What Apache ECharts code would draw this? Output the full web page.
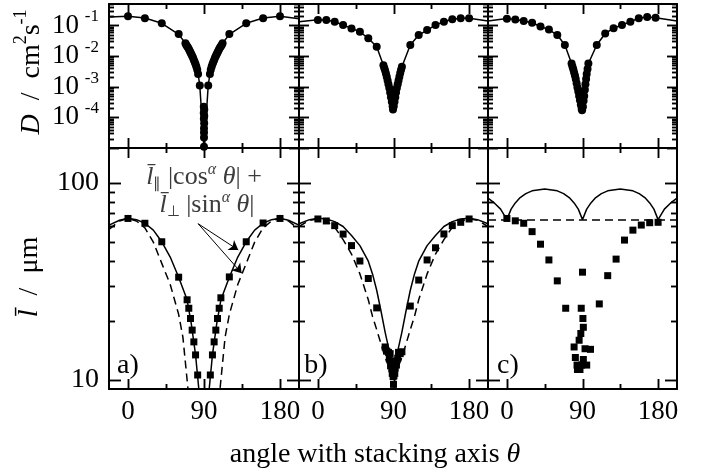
<!DOCTYPE html>
<html>
<head>
<meta charset="utf-8">
<script src="https://cdn.jsdelivr.net/npm/echarts@6/dist/echarts.min.js"></script>
<style>
html, body { margin: 0; padding: 0; background: #fff; }
#main { width: 707px; height: 473px; }
</style>
</head>
<body>
<div id="main"></div>
<script>
// --- angle axis ---
var xTicks = [0, 90, 180];
var xMinorTicks = [45, 135];
// --- D axis (top row), log ---
var dTicks = [1e-5, 1e-4, 1e-3, 1e-2, 1e-1];
var dLabels = [1e-1, 1e-2, 1e-3, 1e-4];
// --- l axis (bottom row), log ---
var lTicks = [10, 100];
var lMinorTicks = [20, 30, 40, 50, 60, 70, 80, 90];

// D data, panel a/b/c  [angle, D]
var dA = [[0,0.20],[20,0.17],[40,0.117],[60,0.052],
  [68,0.026],[69,0.023],[70,0.021],[71,0.019],[72,0.017],[73,0.015],[74,0.013],[75,0.0115],
  [76,0.010],[77,0.0088],[78,0.0075],[79,0.0064],[80,0.0054],[81,0.0045],[82,0.0036],[83,0.0026],
  [85,0.0011],
  [89.7,2.2e-4],[90.3,1.8e-4],[89.7,1.4e-4],[90.3,1.1e-4],[89.8,9e-5],[90.2,6.4e-5],[90,4.4e-5],[90,3.2e-5],[90,2.2e-5],[90,1.1e-5],
  [95,0.0011],
  [97,0.0026],[98,0.0036],[99,0.0045],[100,0.0054],[101,0.0064],[102,0.0075],[103,0.0088],[104,0.010],
  [105,0.0115],[106,0.013],[107,0.015],[108,0.017],[109,0.019],[110,0.021],[111,0.023],[112,0.026],
  [120,0.052],[140,0.117],[160,0.17],[180,0.20]];
var dB = [[0,0.15],[10,0.15],[20,0.132],[30,0.103],[40,0.080],[50,0.062],[60,0.038],[70,0.020],
  [78,0.0050],[79,0.0041],[80,0.0034],[81,0.0027],[82,0.0021],[83,0.0016],[84,0.0012],[85,0.0009],
  [86,0.00065],[87,0.00045],[88,0.00032],[89,0.00023],[89.4,0.00018],
  [90.3,0.00023],[91.2,0.00032],[92.1,0.00045],[93,0.00065],[94,0.0009],[95,0.0012],[96,0.0016],
  [97,0.0021],[98,0.0028],[99,0.0036],[100,0.0045],
  [110,0.0229],[120,0.0485],[130,0.0707],[140,0.103],[150,0.132],[160,0.158],[170,0.171],[180,0.171]];
var dC = [[0,0.165],[10,0.155],[20,0.14],[30,0.122],[40,0.092],[50,0.073],[60,0.0485],[69,0.023],
  [77,0.0057],[78,0.0046],[79,0.0037],[80,0.0029],[81,0.0023],[82,0.0018],[83,0.0013],[84,0.00095],
  [85,0.0007],[86,0.0005],[87,0.00036],[88,0.00026],[89,0.00019],[89.5,0.00017],
  [90.5,0.00022],[91.3,0.00035],[92,0.0005],[92.8,0.0008],[93.5,0.0012],[94.3,0.0018],[95,0.0026],
  [96,0.0038],[97,0.0057],
  [107,0.023],[117,0.0545],[127,0.081],[137,0.103],[147,0.132],[157,0.171],[167,0.19],[177,0.178]];
// fitted D curves
var dFitA = [[-22.5,0.19],[0,0.2],[20,0.175],[40,0.117],[60,0.051],[70,0.022],[75,0.0125],[80,0.0055],
  [83,0.0026],[85,0.0011],[90,0.000009],[95,0.0011],[97,0.0026],[100,0.0055],[105,0.0125],[110,0.022],
  [120,0.051],[140,0.117],[160,0.175],[180,0.2],[202.5,0.165]];
var dFitB = [[-22.5,0.132],[0,0.152],[10,0.15],[20,0.132],[30,0.103],[40,0.08],[50,0.062],[60,0.038],
  [70,0.02],[78,0.005],[84,0.0012],[89.4,0.00018],[95,0.0012],[100,0.0045],[110,0.0229],[120,0.0485],
  [130,0.0707],[140,0.103],[150,0.132],[160,0.158],[170,0.171],[180,0.171],[202.5,0.14]];
var dFitC = [[-22.5,0.14],[0,0.168],[10,0.155],[20,0.14],[30,0.122],[40,0.092],[50,0.073],[60,0.0485],
  [69,0.023],[77,0.0057],[83,0.0013],[89.5,0.00017],[93.5,0.0012],[97,0.0057],[107,0.023],[117,0.0545],
  [127,0.081],[137,0.103],[147,0.132],[157,0.171],[167,0.19],[177,0.178],[202.5,0.14]];

// l data, panel a/b/c  [angle, l]
var lA = [[0,65.9],[20,62.3],[40,50.2],[60,33.2],[70,25.5],[72,23.1],[74,20.5],[76,17.9],[78,15.6],
  [80,13.4],[82.5,10.6],[97.5,10.6],[100,13.4],[102,15.6],[104,17.9],[106,20.5],[108,23.1],[110,26.1],
  [120,33.3],[140,50.2],[160,62.5],[180,65.9]];
var lB = [[0,65.5],[10,64],[20,60.6],[30,54.9],[40,48],[50,40.1],[60,32.7],[70,23.2],[80,14.7],
  [82,14.0],[84,13.8],[86,13.6],[96,13.8],[98,13.6],[100,13.9],[85,12.8],[87,12.4],[93,12.5],[95,12.9],
  [86.5,11.8],[88,11.4],[92,11.5],[93.5,11.9],[88.5,10.8],[90,11.0],[91.5,10.8],[89.5,10.4],[90.5,10.5],[90,9.5],
  [110,23.7],[120,32.1],[130,40.6],[140,46.8],[150,55],[160,60.6],[170,63],[180,65.5]];
var lC = [[0,65.9],[10,64.1],[20,62.3],[30,56.5],[40,48.8],[50,40.6],[60,31.8],[70,23.1],
  [88.5,23.1],[90,35.2],[90.5,20.5],[91,18.5],[88,17.2],[86,15.9],[80,14.7],[81.5,13.0],[93,14.4],
  [99.5,14.3],[91,12.7],[83.5,11.9],[89,11.9],[95,11.9],[84,11.3],[87,11.3],
  [110,24.3],[120,33.8],[130,41],[140,51.2],[150,57.5],[160,61],[170,62.7],[180,63]];
// model curves (solid and dashed)
var lSolidA = [[-22.5,61],[-10,64.5],[0,66],[10,65],[20,62.3],[30,57.5],[40,50.2],[50,42],[60,33.2],
  [70,25.5],[75,19.2],[80,13.4],[85,8],[90,5],[95,8],[100,13.4],[105,19.2],[110,25.5],[120,33.2],
  [130,42],[140,50.2],[150,57.5],[160,62.3],[170,65],[180,66],[190,64.5],[202.5,61]];
var lDashA = [[-22.5,58],[-10,64],[0,66],[10,64],[20,59],[30,50],[40,39],[50,30.5],[60,21.5],[65,16.5],
  [70,10],[75,6],[90,3],[105,6],[110,10],[115,16.5],[120,21.5],[130,30.5],[140,39],[150,50],[160,59],
  [170,64],[180,66],[190,64],[202.5,58]];
var lSolidB = [[-22.5,62],[-10,65],[0,66],[10,65.5],[20,63.5],[30,60],[40,54],[50,48],[60,40],[65,34.5],
  [70,28.5],[75,22.5],[80,17.5],[85,14],[88,12],[90,11],[92,12],[95,14],[100,17.5],[105,22.5],[110,28.5],
  [115,34.5],[120,40],[130,48],[140,54],[150,60],[160,63.5],[170,65.5],[180,66],[190,65],[202.5,62]];
var lDashB = [[-22.5,60],[-10,64.5],[0,65.5],[10,64],[20,59.5],[30,51.5],[40,43.5],[50,34.5],[60,25.5],
  [65,21],[70,18],[75,15.3],[80,13],[85,11.5],[90,10.8],[95,11.5],[100,13],[105,15.3],[110,18],[115,21],
  [120,25.5],[130,34.5],[140,43.5],[150,51.5],[160,59.5],[170,64],[180,65.5],[190,64.5],[202.5,60]];
var lSolidC = [[-22.5,83.5],[-15,79],[-7.5,73.5],[0,65],[5,73.5],[10,79],[15,83.5],[22.5,88],[30,91],
  [45,93],[60,91],[67.5,88],[75,83.5],[80,79],[85,73.5],[90,65],[95,73.5],[100,79],[105,83.5],
  [112.5,88],[120,91],[135,93],[150,91],[157.5,88],[165,83.5],[170,79],[175,73.5],[180,65],
  [187.5,73.5],[195,79],[202.5,83.5]];
var lDashC = [[-22.5,64.7],[202.5,64.7]];

var FONT = 'Liberation Serif';
var X_MIN = -22.5, X_MAX = 202.5;
var cols = [{left: 109, width: 190}, {left: 299, width: 189}, {left: 488, width: 189}];
var rows = [
  {top: 4, height: 144, min: 1e-5, max: 0.5},
  {top: 148, height: 241, min: 9, max: 150}
];

var dMinor = [];
for (var ex = -5; ex < 0; ex++) {
  for (var mm = 2; mm <= 9; mm++) {
    var mv = mm * Math.pow(10, ex);
    if (mv <= 0.5) dMinor.push(mv);
  }
}

var grids = [], xAxes = [], yAxes = [], mainX = [], mainY = [];
var AXLINE = {onZero: false, lineStyle: {color: '#000', width: 2}};

function yAxis(g, r, pos, line, label) {
  return {
    gridIndex: g, type: 'log', logBase: 10, position: pos, min: rows[r].min, max: rows[r].max,
    axisLine: line ? AXLINE : {show: false, onZero: false}, axisTick: {show: false},
    splitLine: {show: false}, axisLabel: label || {show: false}
  };
}

for (var r = 0; r < 2; r++) {
  for (var c = 0; c < 3; c++) {
    var g = grids.length;
    grids.push({left: cols[c].left, width: cols[c].width, top: rows[r].top, height: rows[r].height});
    mainX.push(xAxes.length);
    xAxes.push({
      gridIndex: g, type: 'value', position: 'bottom', min: X_MIN, max: X_MAX,
      axisLine: AXLINE, axisTick: {show: false}, splitLine: {show: false},
      axisLabel: r === 1 ? {show: true, customValues: xTicks, margin: 9, fontFamily: FONT, fontSize: 27,
        color: '#000', showMinLabel: true, showMaxLabel: true} : {show: false}
    });
    xAxes.push({
      gridIndex: g, type: 'value', position: 'top', min: X_MIN, max: X_MAX,
      axisLine: AXLINE, axisTick: {show: false}, splitLine: {show: false}, axisLabel: {show: false}
    });
    mainY.push(yAxes.length);
    if (c === 0 && r === 0) {
      // mantissa "10" and the exponent as two label rows
      yAxes.push(yAxis(g, r, 'left', true, {show: true, customValues: dLabels, margin: 30,
        fontFamily: FONT, fontSize: 27, color: '#000', showMinLabel: true, showMaxLabel: true,
        formatter: function () { return '10'; }}));
      yAxes.push(yAxis(g, r, 'left', false, {show: true, customValues: dLabels, margin: 10,
        fontFamily: FONT, fontSize: 17, color: '#000', verticalAlign: 'bottom', showMinLabel: true, showMaxLabel: true,
        formatter: function (val) { return String(Math.round(Math.log10(val))); }}));
    } else if (c === 0) {
      yAxes.push(yAxis(g, r, 'left', true, {show: true, customValues: lTicks, margin: 10,
        fontFamily: FONT, fontSize: 28, color: '#000', showMinLabel: true, showMaxLabel: true}));
    } else {
      yAxes.push(yAxis(g, r, 'left', true));
    }
    yAxes.push(yAxis(g, r, 'right', true));
  }
}

// inward ticks on all four sides, as a custom series on each panel's axes
function tickSeries(g, r) {
  var data = [];
  xTicks.forEach(function (val) { data.push([val, 10, 0]); });
  xMinorTicks.forEach(function (val) { data.push([val, 5, 0]); });
  (r === 0 ? dTicks : lTicks).forEach(function (val) { data.push([val, r === 0 ? 10 : 12, 1]); });
  (r === 0 ? dMinor : lMinorTicks).forEach(function (val) { data.push([val, r === 0 ? 5 : 6, 1]); });
  var yRef = rows[r].min;
  return {
    type: 'custom', xAxisIndex: mainX[g], yAxisIndex: mainY[g], data: data, z: 5,
    renderItem: function (params, api) {
      var tv = api.value(0), len = api.value(1), dir = api.value(2);
      var cs = params.coordSys;
      var segs;
      if (dir === 0) {
        var px = Math.round(api.coord([tv, yRef])[0]) + 0.5;
        segs = [[px, cs.y + cs.height, px, cs.y + cs.height - len], [px, cs.y, px, cs.y + len]];
      } else {
        var py = Math.round(api.coord([0, tv])[1]) + 0.5;
        segs = [[cs.x, py, cs.x + len, py], [cs.x + cs.width, py, cs.x + cs.width - len, py]];
      }
      return {
        type: 'group',
        children: segs.map(function (s) {
          return {type: 'line', shape: {x1: s[0], y1: s[1], x2: s[2], y2: s[3]},
            style: {stroke: '#000', lineWidth: 1.5}};
        })
      };
    }
  };
}

var dSets = [dA, dB, dC], dFits = [dFitA, dFitB, dFitC];
var lSets = [lA, lB, lC], lSolids = [lSolidA, lSolidB, lSolidC], lDashes = [lDashA, lDashB, lDashC];
var series = [];
for (var k = 0; k < 3; k++) {
  series.push({
    type: 'line', xAxisIndex: mainX[k], yAxisIndex: mainY[k], data: dFits[k],
    showSymbol: false, lineStyle: {color: '#000', width: 1.5}, z: 3
  });
  series.push({
    type: 'scatter', xAxisIndex: mainX[k], yAxisIndex: mainY[k], data: dSets[k],
    symbol: 'circle', symbolSize: 8, itemStyle: {color: '#000', opacity: 1}, z: 4
  });
  series.push({
    type: 'line', xAxisIndex: mainX[k + 3], yAxisIndex: mainY[k + 3], data: lSolids[k],
    showSymbol: false, lineStyle: {color: '#000', width: 1.5}, z: 3
  });
  series.push({
    type: 'line', xAxisIndex: mainX[k + 3], yAxisIndex: mainY[k + 3], data: lDashes[k],
    showSymbol: false, lineStyle: {color: '#000', width: 1.5, type: [8, 5]}, z: 3
  });
  var sq = {
    type: 'scatter', xAxisIndex: mainX[k + 3], yAxisIndex: mainY[k + 3], data: lSets[k],
    symbol: 'rect', symbolSize: 7, itemStyle: {color: '#000', opacity: 1}, z: 4
  };
  if (k === 0) {
    // arrows from the formula to the two model curves
    sq.markLine = {
      silent: true, symbol: ['none', 'arrow'], symbolSize: 9, animation: false,
      label: {show: false},
      lineStyle: {color: '#000', width: 1, type: 'solid', opacity: 1},
      data: [
        [{coord: [83, 62]}, {coord: [130.6, 45.6]}],
        [{coord: [83, 62]}, {coord: [134.6, 34.8]}]
      ]
    };
  }
  series.push(sq);
}
for (var t = 0; t < 6; t++) series.push(tickSeries(t, t < 3 ? 0 : 1));

var rich = {
  n: {fontFamily: FONT, fontSize: 28, fill: '#000', lineHeight: 40},
  i: {fontFamily: FONT, fontSize: 28, fontStyle: 'italic', fill: '#000', lineHeight: 40},
  p: {fontFamily: FONT, fontSize: 18, fill: '#000', lineHeight: 14, verticalAlign: 'top'}
};
var arich = {
  n: {fontFamily: FONT, fontSize: 26, fill: '#3c3c3c', lineHeight: 30},
  i: {fontFamily: FONT, fontSize: 26, fontStyle: 'italic', fill: '#3c3c3c', lineHeight: 30},
  p: {fontFamily: FONT, fontSize: 16, fontStyle: 'italic', fill: '#3c3c3c', lineHeight: 12, verticalAlign: 'top'},
  d: {fontFamily: FONT, fontSize: 15, fill: '#3c3c3c', lineHeight: 12, verticalAlign: 'bottom'}
};

function txt(x, y, s, rot, rc) {
  return {
    type: 'text', x: x, y: y, rotation: rot || 0, z: 10,
    style: {text: s, rich: rc || rich, align: 'center', verticalAlign: 'middle', fill: '#000',
      fontFamily: FONT, fontSize: 27}
  };
}

var texts = [
  txt(32, 72, '{i|D}{n|  /  cm}{p|2}{n|s}{p|-1}', Math.PI / 2),
  txt(30, 277, '{i|l\u0304}{n|  /  \u03bcm}', Math.PI / 2),
  txt(375, 455, '{n|angle with stacking axis }{i|\u03b8}'),
  txt(128, 366, '{n|a)}'),
  txt(316, 366, '{n|b)}'),
  txt(508, 366, '{n|c)}'),
  txt(204, 177, '{i|l\u0304}{d|\u2225}{n| |cos}{p|\u03b1}{n| }{i|\u03b8}{n|| +}', 0, arich),
  txt(207, 205, '{i|l\u0304}{d|\u22a5}{n| |sin}{p|\u03b1}{n| }{i|\u03b8}{n||}', 0, arich)
];

var chart = echarts.init(document.getElementById('main'));
chart.setOption({
  animation: false,
  backgroundColor: '#fff',
  grid: grids,
  xAxis: xAxes,
  yAxis: yAxes,
  series: series
});

// same ticks again as plain graphic lines, mapped with each panel's axis ranges
var tickEls = [];
function seg(x1, y1, x2, y2) {
  tickEls.push({type: 'line', z: 6, shape: {x1: x1, y1: y1, x2: x2, y2: y2},
    style: {stroke: '#000', lineWidth: 1.5}});
}
function panelTicks(gi) {
  var ri = gi < 3 ? 0 : 1, gr = grids[gi];
  var x0 = gr.left, x1 = gr.left + gr.width, y0 = gr.top, y1 = gr.top + gr.height;
  var lmax = Math.log10(rows[ri].max), lmin = Math.log10(rows[ri].min);
  function xt(vals, len) {
    vals.forEach(function (val) {
      var px = Math.round(x0 + (val - X_MIN) / (X_MAX - X_MIN) * gr.width) + 0.5;
      seg(px, y1, px, y1 - len);
      seg(px, y0, px, y0 + len);
    });
  }
  function yt(vals, len) {
    vals.forEach(function (val) {
      var py = Math.round(y0 + (lmax - Math.log10(val)) / (lmax - lmin) * gr.height) + 0.5;
      seg(x0, py, x0 + len, py);
      seg(x1, py, x1 - len, py);
    });
  }
  xt(xTicks, 10);
  xt(xMinorTicks, 5);
  yt(ri === 0 ? dTicks : lTicks, ri === 0 ? 10 : 12);
  yt(ri === 0 ? dMinor : lMinorTicks, ri === 0 ? 5 : 6);
}
for (var gi = 0; gi < 6; gi++) panelTicks(gi);

chart.setOption({graphic: texts.concat(tickEls)});
</script>
</body>
</html>
